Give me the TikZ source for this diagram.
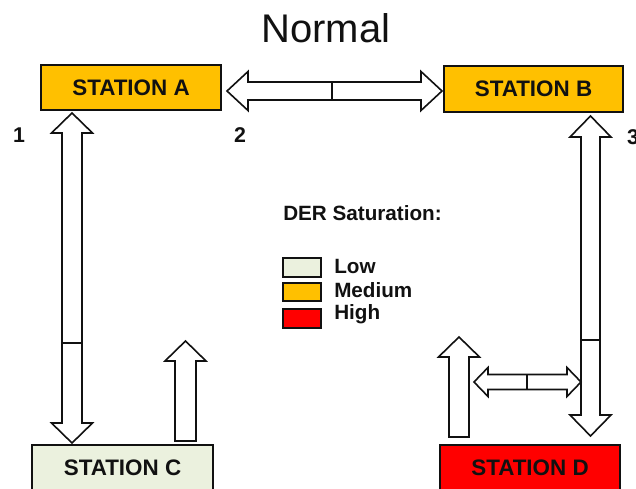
\documentclass[tikz,border=0pt]{standalone}
\usepackage{fontspec}
\setmainfont{Liberation Sans}
\definecolor{medium}{HTML}{FFC000}
\definecolor{low}{HTML}{EBF1DE}
\definecolor{high}{HTML}{FF0000}
\definecolor{ink}{HTML}{111111}
\tikzset{
  station/.style={draw=ink, line width=1.1pt, minimum width=135pt, minimum height=34pt, inner sep=0pt, font=\fontsize{16.8}{18}\selectfont\bfseries, text=ink},
  blockarrow/.style={draw=ink, fill=white, line width=1.2pt, line join=miter},
  legbox/.style={draw=ink, line width=1.1pt},
  legtext/.style={font=\fontsize{15.5}{17}\selectfont\bfseries, text=ink, anchor=west, inner sep=0pt},
  numlabel/.style={font=\fontsize{16}{18}\selectfont\bfseries, text=ink, inner sep=0pt}
}
% vertical double arrow: cx, ytop, ybot, shaft half, head half, head length, divider y
\newcommand{\vdarrow}[7]{%
  \draw[blockarrow] ({#1},{#2}) -- ({#1+#5},{#2+#6}) -- ({#1+#4},{#2+#6}) -- ({#1+#4},{#3-#6}) -- ({#1+#5},{#3-#6}) -- ({#1},{#3}) -- ({#1-#5},{#3-#6}) -- ({#1-#4},{#3-#6}) -- ({#1-#4},{#2+#6}) -- ({#1-#5},{#2+#6}) -- cycle;
  \draw[ink, line width=1.2pt] ({#1-#4},{#7}) -- ({#1+#4},{#7});}
% horizontal double arrow: cy, xleft, xright, shaft half, head half, head length, divider x
\newcommand{\hdarrow}[7]{%
  \draw[blockarrow] ({#2},{#1}) -- ({#2+#6},{#1-#5}) -- ({#2+#6},{#1-#4}) -- ({#3-#6},{#1-#4}) -- ({#3-#6},{#1-#5}) -- ({#3},{#1}) -- ({#3-#6},{#1+#5}) -- ({#3-#6},{#1+#4}) -- ({#2+#6},{#1+#4}) -- ({#2+#6},{#1+#5}) -- cycle;
  \draw[ink, line width=1.2pt] ({#7},{#1-#4}) -- ({#7},{#1+#4});}
% vertical single up arrow: cx, ytip, ybottom, shaft half, head half, head length
\newcommand{\uparrowshape}[6]{%
  \draw[blockarrow] ({#1},{#2}) -- ({#1+#5},{#2+#6}) -- ({#1+#4},{#2+#6}) -- ({#1+#4},{#3}) -- ({#1-#4},{#3}) -- ({#1-#4},{#2+#6}) -- ({#1-#5},{#2+#6}) -- cycle;}
\begin{document}
\begin{tikzpicture}[x=0.75pt, y=-0.75pt]
\useasboundingbox (0,0) rectangle (636,489);
% title
\node[font=\fontsize{30}{34}\selectfont, text=ink] (title) at (326,28) {Normal};
% stations
\node[station, fill=medium] (A) at (131,87.5) {STATION A};
\node[station, fill=medium, minimum height=34.5pt, minimum width=134.25pt] (B) at (533.5,89) {STATION B};
\node[station, fill=low, minimum width=135.75pt] (C) at (122.5,467.5) {STATION C};
\node[station, fill=high] (D) at (530,467.5) {STATION D};
% numbers
\node[numlabel] (n1) at (19,135) {1};
\node[numlabel] (n2) at (240,135) {2};
\node[numlabel] (n3) at (633,137) {3};
% arrows
\hdarrow{91}{227}{442}{9}{19.5}{21}{332}
\vdarrow{72}{113}{443}{10}{20.5}{20}{343}
\uparrowshape{185.5}{341}{441}{10.5}{20.5}{20}
\vdarrow{590.5}{116}{436}{9.5}{20.5}{21}{340}
\uparrowshape{459}{337}{437}{10}{20.5}{20}
\hdarrow{382}{474}{581}{7.5}{14.5}{14}{527}
% legend
\node[legtext] (legtitle) at (283,213) {DER Saturation:};
\draw[legbox, fill=low] (283,258) rectangle (321,277);
\draw[legbox, fill=medium] (283,283) rectangle (321,301);
\draw[legbox, fill=high] (283,309) rectangle (321,328);
\node[legtext] (lowt) at (334,266) {Low};
\node[legtext] (medt) at (334,290) {Medium};
\node[legtext] (hight) at (334,314) {High};
\end{tikzpicture}
\end{document}
